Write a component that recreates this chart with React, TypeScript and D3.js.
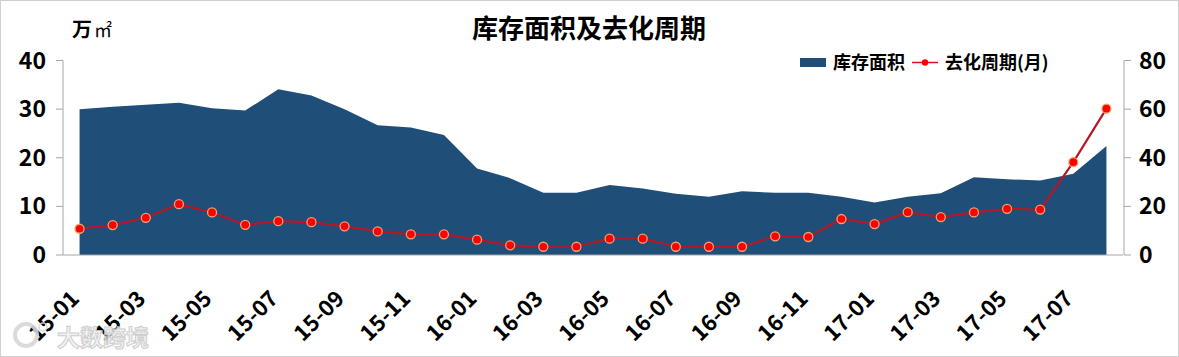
import React from "react";
import * as d3 from "d3";

const months: string[] = [
  "15-01","15-02","15-03","15-04","15-05","15-06","15-07","15-08","15-09","15-10","15-11","15-12",
  "16-01","16-02","16-03","16-04","16-05","16-06","16-07","16-08","16-09","16-10","16-11","16-12",
  "17-01","17-02","17-03","17-04","17-05","17-06","17-07","17-08",
];
const inventory: number[] = [
  30.0, 30.5, 30.9, 31.3, 30.2, 29.7, 34.1, 32.8, 30.0, 26.7, 26.2, 24.7,
  17.8, 15.8, 12.8, 12.8, 14.4, 13.7, 12.6, 12.0, 13.1, 12.8, 12.8, 12.0,
  10.8, 12.0, 12.7, 16.0, 15.6, 15.3, 16.7, 22.4,
];
const cycle: number[] = [
  10.8, 12.3, 15.3, 20.9, 17.5, 12.4, 13.9, 13.5, 11.8, 9.7, 8.5, 8.5,
  6.3, 4.0, 3.4, 3.4, 6.7, 6.7, 3.4, 3.4, 3.4, 7.7, 7.4, 14.8,
  12.7, 17.6, 15.6, 17.5, 19.0, 18.7, 38.2, 60.2,
];
const leftTicks: number[] = [0, 10, 20, 30, 40];
const rightTicks: number[] = [0, 20, 40, 60, 80];
const titleText = "库存面积及去化周期";
const seriesNames: string[] = ["库存面积", "去化周期(月)"];

const W = 1179;
const H = 357;
const FONT = "'Noto Sans CJK SC', 'Noto Sans', sans-serif";
const AREA = "#1f4e79";
const LINE = "#b3182a";

export default function App() {
  const x = d3.scalePoint<string>().domain(months).range([63, 1123]).padding(0.5);
  const yL = d3.scaleLinear().domain([0, 40]).range([255, 60.5]);
  const yR = d3.scaleLinear().domain([0, 80]).range([255, 60.5]);

  const area = d3
    .area<number>()
    .x((_, i) => x(months[i])!)
    .y0(yL(0))
    .y1((d) => yL(d));
  const line = d3
    .line<number>()
    .x((_, i) => x(months[i])!)
    .y((d) => yR(d));

  const axisColor = "#a6a6a6";
  return (
    <div style={{ position: "fixed", left: 0, top: 0 }}>
      <svg width={W} height={H} style={{ display: "block", background: "#fff" }}>
        <rect x={0.5} y={0.5} width={W - 1} height={H - 1} fill="#fff" stroke="#d0d0d0" />
        {/* title */}
        <text x={589} y={38} textAnchor="middle" fontFamily={FONT} fontWeight="bold" fontSize={26} fill="#000">
          {titleText}
        </text>
        {/* unit */}
        <text x={72} y={37} fontFamily={FONT} fontSize={20} fill="#000">
          <tspan fontWeight="bold">万</tspan>
          <tspan fontSize={18} dx={2}>㎡</tspan>
        </text>

        {/* area */}
        <path d={area(inventory)!} fill={AREA} />

        {/* axes */}
        <line x1={63} x2={1123} y1={yL(0)} y2={yL(0)} stroke={axisColor} strokeWidth={1} />
        <line x1={63} x2={63} y1={yL(40)} y2={yL(0)} stroke={axisColor} strokeWidth={1} />
        <line x1={1124} x2={1124} y1={yR(80)} y2={yR(0)} stroke={axisColor} strokeWidth={1} />
        {leftTicks.map((t) => (
          <g key={"l" + t}>
            <line x1={56} x2={63} y1={yL(t)} y2={yL(t)} stroke={axisColor} />
            <text x={46} y={yL(t) + 8} textAnchor="end" fontFamily={FONT} fontWeight="bold" fontSize={23} fill="#000">
              {t}
            </text>
          </g>
        ))}
        {rightTicks.map((t) => (
          <g key={"r" + t}>
            <line x1={1124} x2={1131} y1={yR(t)} y2={yR(t)} stroke={axisColor} />
            <text x={1139} y={yR(t) + 8} textAnchor="start" fontFamily={FONT} fontWeight="bold" fontSize={23} fill="#000">
              {t}
            </text>
          </g>
        ))}
        {months.map((m, i) =>
          i % 2 === 0 ? (
            <text
              key={m}
              transform={`translate(${x(m)! + 1},${300}) rotate(-45)`}
              textAnchor="end"
              fontFamily={FONT}
              fontWeight="bold"
              fontSize={22}
              fill="#000"
            >
              {m}
            </text>
          ) : null
        )}

        {/* line */}
        <path d={line(cycle)!} fill="none" stroke={LINE} strokeWidth={2.2} />
        {cycle.map((v, i) => (
          <circle key={i} cx={x(months[i])!} cy={yR(v)} r={4.5} fill="#ff0000" stroke="#f5a06a" strokeWidth={1.3} />
        ))}

        {/* legend */}
        <rect x={800} y={58} width={26} height={9} fill={AREA} />
        <text x={833} y={69} fontFamily={FONT} fontWeight="bold" fontSize={18} fill="#000">
          {seriesNames[0]}
        </text>
        <line x1={912} x2={938} y1={62.5} y2={62.5} stroke={"#e0101a"} strokeWidth={1.5} />
        <circle cx={925} cy={62.5} r={3.2} fill="#ff0000" />
        <text x={945} y={69} fontFamily={FONT} fontWeight="bold" fontSize={18} fill="#000">
          {seriesNames[1]}
        </text>

        {/* watermark */}
        <g opacity={0.9}>
          <circle cx={26} cy={335} r={11} fill="none" stroke="#d8d8d8" strokeWidth={4} />
          <circle cx={43} cy={327} r={4} fill="none" stroke="#d8d8d8" strokeWidth={1.5} />
          <text x={57} y={346} fontFamily={FONT} fontWeight="bold" fontSize={23} fill="#f2f2f2" stroke="#c8c8c8" strokeWidth={1}>
            大数跨境
          </text>
        </g>
      </svg>
    </div>
  );
}
